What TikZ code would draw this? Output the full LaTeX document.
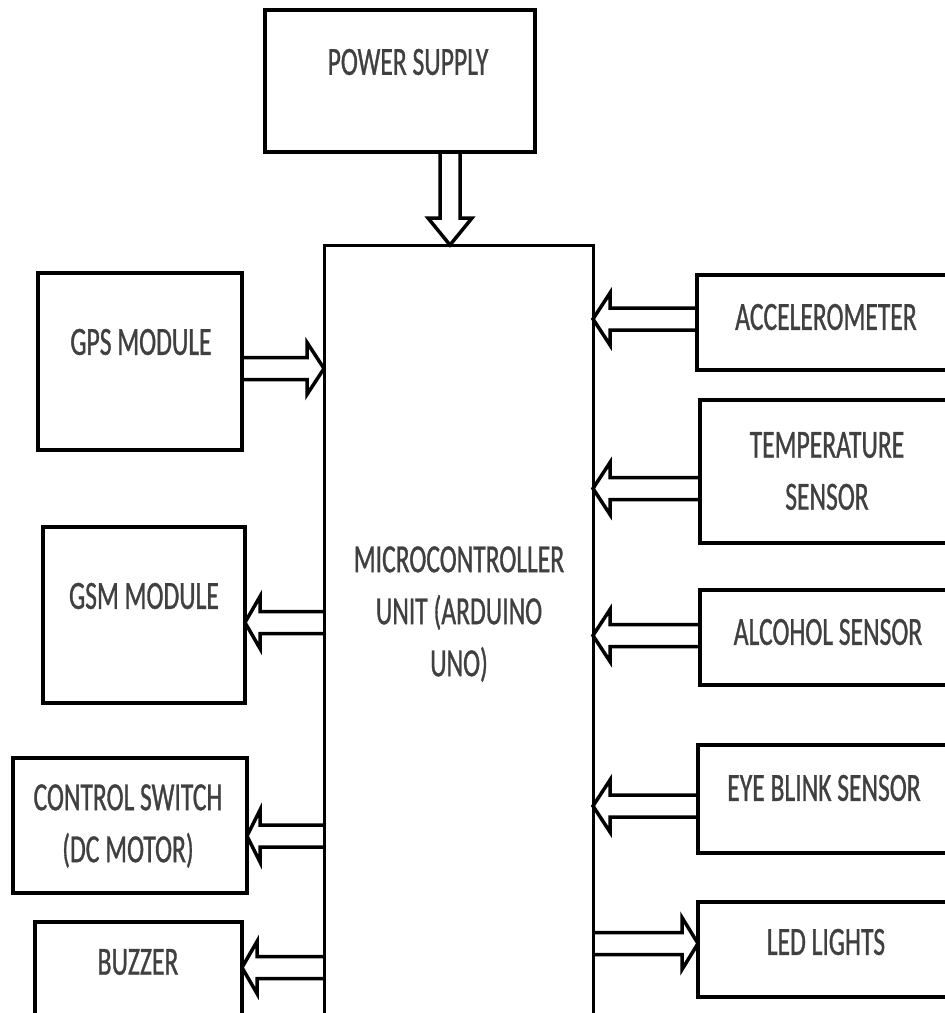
\documentclass[tikz,border=0pt]{standalone}
\usepackage{fontspec}
\setmainfont{Carlito}[FakeStretch=0.64,FakeBold=0.8]
\usetikzlibrary{calc}

% horizontal double-outline arrow: tail, tip (same height), head offset
\newcommand\fatarrow[3]{%
  \draw[fat] ($(#1)+(0,-11)$) -- ($(#2)+(#3,-11)$) -- ($(#2)+(#3,-26)$) -- (#2)
    -- ($(#2)+(#3,26)$) -- ($(#2)+(#3,11)$) -- ($(#1)+(0,11)$);}

\begin{document}
\begin{tikzpicture}[x=1pt,y=-1pt,line join=miter,
  box/.style={draw,line width=3.8pt,inner sep=0,outer sep=0},
  txt/.style={font=\fontsize{40}{52}\selectfont,text=black!75,align=center,inner sep=0},
  fat/.style={draw,line width=3.5pt}]
\useasboundingbox (0,0) rectangle (945,1013);
\clip (0,0) rectangle (945,1013);
% blocks
\node[box,minimum width=270,minimum height=142] (psu) at (400,81) {};
\node[box,line width=3pt,minimum width=269,minimum height=800] (mcu) at (458.5,645) {};
\node[box,minimum width=204,minimum height=177] (gps) at (140,361.5) {};
\node[box,minimum width=202,minimum height=176] (gsm) at (144,615) {};
\node[box,minimum width=234,minimum height=135] (ctrl) at (130,825.5) {};
\node[box,minimum width=207,minimum height=116] (buzz) at (138.5,980) {};
\node[box,minimum width=263,minimum height=95] (acc) at (828.5,322.5) {};
\node[box,minimum width=260,minimum height=143] (temp) at (830,471.5) {};
\node[box,minimum width=260,minimum height=95] (alc) at (830,637.5) {};
\node[box,minimum width=262,minimum height=108] (eye) at (829,799) {};
\node[box,minimum width=262,minimum height=95] (led) at (829,949.5) {};
% labels
\node[txt] (psu-t) at (408,62) {POWER SUPPLY};
\node[txt] (mcu-t) at (459,614) {MICROCONTROLLER\\UNIT (ARDUINO\\UNO)};
\node[txt] (gps-t) at (141,342) {GPS MODULE};
\node[txt] (gsm-t) at (144,596) {GSM MODULE};
\node[txt] (ctrl-t) at (128,826) {CONTROL SWITCH\\(DC MOTOR)};
\node[txt] (buzz-t) at (138,962) {BUZZER};
\node[txt] (acc-t) at (826,317) {ACCELEROMETER};
\node[txt] (temp-t) at (827,471) {TEMPERATURE\\SENSOR};
\node[txt] (alc-t) at (828,632) {ALCOHOL SENSOR};
\node[txt] (eye-t) at (824,788) {EYE BLINK SENSOR};
\node[txt] (led-t) at (826,942) {LED LIGHTS};
% power feed
\coordinate (psuout) at ($(psu.south)+(50,0)$);
\coordinate (mcuin) at (psuout |- mcu.north);
\draw[fat] ($(psuout)+(-10,0)$) -- ($(mcuin)+(-10,-27)$) -- ($(mcuin)+(-22,-27)$) -- (mcuin)
  -- ($(mcuin)+(22,-27)$) -- ($(mcuin)+(10,-27)$) -- ($(psuout)+(10,0)$);
% left side
\coordinate (gpsout) at ($(gps.east)+(0,7)$);
\coordinate (gsmin) at ($(gsm.east)+(0,7.5)$);
\coordinate (ctrlin) at ($(ctrl.east)+(0,10.5)$);
\coordinate (buzzin) at ($(buzz.east)+(0,-12.5)$);
\fatarrow{gpsout}{mcu.west |- gpsout}{-17}
\fatarrow{mcu.west |- gsmin}{gsmin}{15}
\fatarrow{mcu.west |- ctrlin}{ctrlin}{13}
\fatarrow{mcu.west |- buzzin}{buzzin}{15}
% right side
\coordinate (accout) at ($(acc.west)+(0,-3.5)$);
\coordinate (tempout) at ($(temp.west)+(0,17)$);
\coordinate (alcout) at ($(alc.west)+(0,-2)$);
\coordinate (eyeout) at ($(eye.west)+(0,7)$);
\coordinate (ledin) at ($(led.west)+(0,-6)$);
\fatarrow{accout}{mcu.east |- accout}{17}
\fatarrow{tempout}{mcu.east |- tempout}{17}
\fatarrow{alcout}{mcu.east |- alcout}{17}
\fatarrow{eyeout}{mcu.east |- eyeout}{17}
\fatarrow{mcu.east |- ledin}{ledin}{-16}
\end{tikzpicture}
\end{document}
